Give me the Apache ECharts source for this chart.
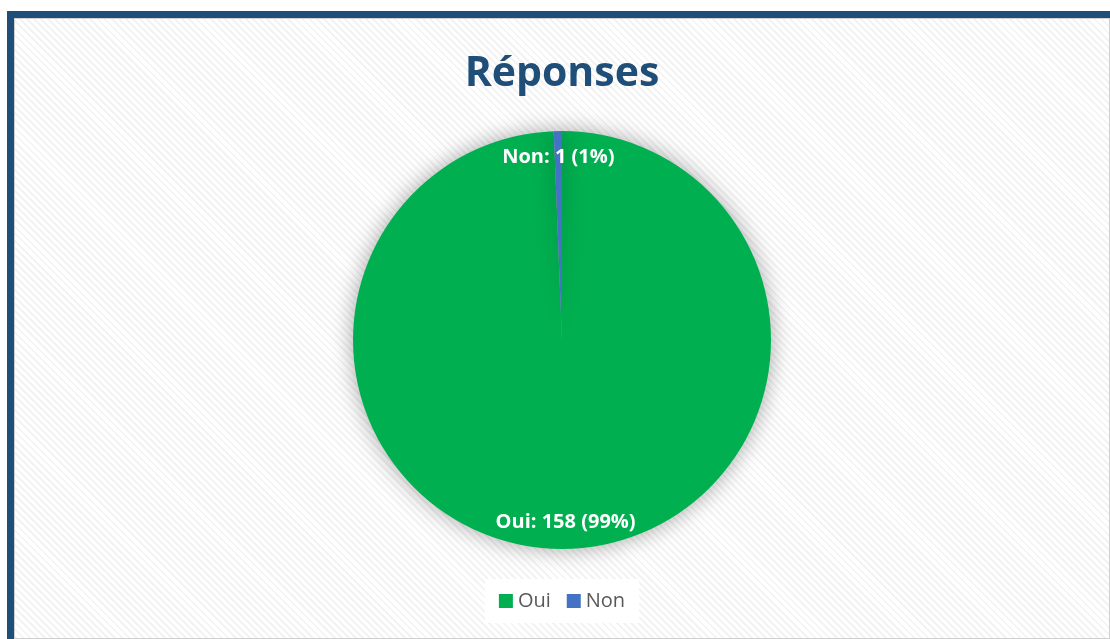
<!DOCTYPE html>
<html><head><meta charset="utf-8">
<script src="https://cdn.jsdelivr.net/npm/echarts@6/dist/echarts.min.js"></script>
<style>
html,body{margin:0;padding:0;width:1110px;height:639px;overflow:hidden;background:#fff;}
#frame{position:absolute;left:7px;top:11px;width:1103px;height:628px;box-sizing:border-box;border-top:7px solid #1F4E79;border-left:7px solid #1F4E79;}
#inner{position:absolute;left:14px;top:18px;width:1096px;height:621px;box-sizing:border-box;border:1px solid #d0d0d0;
background:repeating-linear-gradient(45deg,#f3f3f3 0px,#f3f3f3 2px,#ffffff 2px,#ffffff 5px);}
#chart{position:absolute;left:14px;top:18px;width:1096px;height:621px;}
</style></head>
<body>
<div id="frame"></div><div id="inner"></div>
<div id="chart"></div>
<script>
const categories = ["Oui", "Non"];
const values = [158, 1];
const colors = ["#00B050", "#4472C4"];
const titleText = "Réponses";

const data = categories.map((c, i) => ({ name: c, value: values[i], itemStyle: { color: colors[i] } }));
const chart = echarts.init(document.getElementById('chart'));
const font = "'Open Sans', 'Noto Sans', sans-serif";
chart.setOption({
  backgroundColor: 'transparent',
  title: { text: titleText, left: 'center', top: 31,
    textStyle: { fontFamily: font, fontSize: 41, fontWeight: 'bold', color: '#1F4E79' } },
  legend: { data: categories, bottom: 16, left: 'center', backgroundColor: '#ffffff',
    padding: [12, 14], itemWidth: 14, itemHeight: 14, itemGap: 16, icon: 'rect',
    textStyle: { fontFamily: font, fontSize: 20, color: '#595959' } },
  series: [
    { type: 'pie', center: [548, 322], radius: [0, 209], startAngle: 90, clockwise: true,
      data: data, label: { show: false }, labelLine: { show: false }, silent: true,
      itemStyle: { shadowBlur: 22, shadowColor: 'rgba(0,0,0,0.35)' } },
    { type: 'pie', center: [548, 322], radius: [150, 209], startAngle: 90, clockwise: true,
      percentPrecision: 0, silent: true,
      data: categories.map((c, i) => ({ name: c, value: values[i], itemStyle: { color: 'rgba(0,0,0,0)' } })),
      label: { show: true, position: 'inside', formatter: '{b}: {c} ({d}%)',
        fontFamily: font, fontSize: 20, fontWeight: 'bold', color: '#ffffff' },
      labelLine: { show: false } }
  ]
});
</script>
</body></html>
